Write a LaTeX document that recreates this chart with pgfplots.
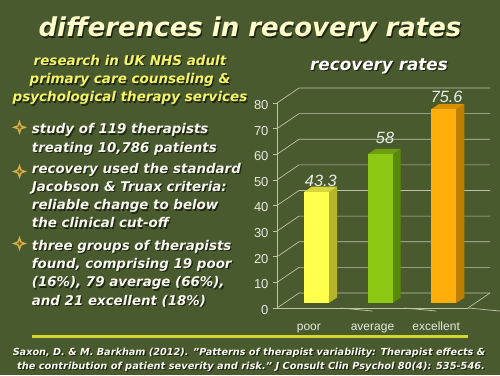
\documentclass[border=0pt]{standalone}
\usepackage{fontspec}
\setmainfont{DejaVu Sans}
\newfontfamily\chartfont{Liberation Sans}
\usepackage{pgfplots}
\pgfplotsset{compat=1.18}
\definecolor{bg}{HTML}{4A5A2F}
\definecolor{titlec}{HTML}{FFFFCC}
\definecolor{subc}{HTML}{F4F466}
\definecolor{bodyc}{HTML}{F8F8F0}
\definecolor{starc}{HTML}{D2B04A}
\definecolor{starin}{HTML}{6E6228}
\definecolor{rulec}{HTML}{D6D630}
\definecolor{gridc}{HTML}{BCC4A4}
\definecolor{tickc}{HTML}{E4EADC}
\definecolor{valc}{HTML}{E8EEE4}
\definecolor{shadow}{HTML}{1E2612}
\definecolor{poorF}{HTML}{FFFF4D}
\definecolor{poorS}{HTML}{B5B52C}
\definecolor{poorT}{HTML}{D6D63A}
\definecolor{avgF}{HTML}{8CC814}
\definecolor{avgS}{HTML}{5A8A0A}
\definecolor{avgT}{HTML}{6E9E10}
\definecolor{excF}{HTML}{FFAE0A}
\definecolor{excS}{HTML}{C07E00}
\definecolor{excT}{HTML}{D89000}
\newcommand{\stext}[5]{%
  \node[anchor=#1,inner sep=0pt,text=shadow,xshift=1.3pt,yshift=-1.3pt] at (#2,#3) {#5};
  \node[anchor=#1,inner sep=0pt,text=#4] at (#2,#3) {#5};}
\newcommand{\barbox}[4]{%
  \fill[#3] ([shift={(20pt,5pt)}]axis cs:#1,0) -- ([shift={(28.2pt,10.5pt)}]axis cs:#1,0) -- ([shift={(28.2pt,10.5pt)}]axis cs:#1,#2) -- ([shift={(20pt,5pt)}]axis cs:#1,#2) -- cycle;
  \fill[#4] ([shift={(-5pt,5pt)}]axis cs:#1,#2) -- ([shift={(20pt,5pt)}]axis cs:#1,#2) -- ([shift={(28.2pt,10.5pt)}]axis cs:#1,#2) -- ([shift={(3.2pt,10.5pt)}]axis cs:#1,#2) -- cycle;}
\newcommand{\TF}{\bfseries\itshape\fontsize{26}{26}\selectfont}
\newcommand{\SF}{\bfseries\itshape\fontsize{13.5}{13.5}\selectfont}
\newcommand{\BF}{\bfseries\itshape\fontsize{13.4}{13.4}\selectfont}
\newcommand{\CF}{\bfseries\itshape\fontsize{9.7}{9.7}\selectfont}
\begin{document}
\begin{tikzpicture}
\path[use as bounding box] (0,0) rectangle (500pt,375pt);
\fill[bg] (0,0) rectangle (500pt,375pt);
% title
\stext{base}{250pt}{338pt}{titlec}{\TF differences in recovery rates}
% subtitle
\stext{base}{130pt}{309.3pt}{subc}{\SF research in UK NHS adult}
\stext{base}{130pt}{291pt}{subc}{\SF primary care counseling \&}
\stext{base}{130pt}{273pt}{subc}{\SF psychological therapy services}
% chart title
\stext{base}{379pt}{304.3pt}{white}{\bfseries\itshape\fontsize{16.8}{16.8}\selectfont recovery rates}
% bullet stars
\foreach \yy in {247.7,203.5,131.5}{
  \begin{scope}[shift={(19.5pt,\yy pt)}]
  \fill[starc] (0,7.5pt) -- (2pt,2pt) -- (7.5pt,0) -- (2pt,-2pt) -- (0,-7.5pt) -- (-2pt,-2pt) -- (-7.5pt,0) -- (-2pt,2pt) -- cycle;
  \fill[starin] (0,2.6pt) -- (1.2pt,0) -- (0,-2.6pt) -- (-1.2pt,0) -- cycle;
  \fill[starin] (-2.6pt,0) -- (0,1.2pt) -- (2.6pt,0) -- (0,-1.2pt) -- cycle;
  \end{scope}
}
\stext{base west}{31.7pt}{241pt}{bodyc}{\BF study of 119 therapists}
\stext{base west}{31.7pt}{222.3pt}{bodyc}{\BF treating 10,786 patients}
\stext{base west}{31.7pt}{201.7pt}{bodyc}{\BF recovery used the standard}
\stext{base west}{31.7pt}{183.3pt}{bodyc}{\BF Jacobson \& Truax criteria:}
\stext{base west}{31.7pt}{165pt}{bodyc}{\BF reliable change to below}
\stext{base west}{31.7pt}{147pt}{bodyc}{\BF the clinical cut-off}
\stext{base west}{31.7pt}{125pt}{bodyc}{\BF three groups of therapists}
\stext{base west}{31.7pt}{107pt}{bodyc}{\BF found, comprising 19 poor}
\stext{base west}{31.7pt}{88.3pt}{bodyc}{\BF (16\%), 79 average (66\%),}
\stext{base west}{31.7pt}{70pt}{bodyc}{\BF and 21 excellent (18\%)}
% rule
\draw[rulec,line width=3pt] (32pt,38.3pt) -- (468pt,38.3pt);
% citation
\stext{base}{249pt}{20pt}{bodyc}{\CF Saxon, D. \& M. Barkham (2012). "Patterns of therapist variability: Therapist effects \&}
\stext{base}{251pt}{6pt}{bodyc}{\CF \scalebox{1.015}[1]{the contribution of patient severity and risk." J Consult Clin Psychol 80(4): 535-546.}}
% chart
\begin{axis}[
  at={(277pt,67pt)}, anchor=south west,
  scale only axis, width=191pt, height=205pt,
  xmin=-0.5, xmax=2.5, ymin=0, ymax=80,
  clip=false,
  axis x line*=bottom, axis y line*=left,
  axis line style={draw=gridc, line width=0.7pt, -},
  xtick={0,1,2}, xticklabels={poor,average,excellent},
  xtick style={draw=none},
  ytick={0,10,...,80},
  ytick style={draw=gridc, line width=0.7pt},
  tick align=outside, major tick length=4pt,
  /pgf/number format/assume math mode=true,
  yticklabel style={font=\chartfont\fontsize{13}{13}\selectfont, text=tickc, yshift=-2pt, xshift=-1pt},
  xticklabel style={font=\chartfont\fontsize{12}{12}\selectfont, text=tickc, anchor=base, yshift=-18pt},
]
\pgfplotsinvokeforeach{0,10,20,30,40,50,60,70,80}{
  \draw[gridc,line width=0.7pt] (axis cs:-0.5,#1) -- ++(22pt,15pt) -- ++(191pt,0pt);
}
\draw[gridc,line width=0.7pt] (axis cs:2.5,0) -- ++(22pt,15pt);
\draw[gridc,line width=0.7pt] (axis cs:0.5,0) -- ++(0,-3pt);
\draw[gridc,line width=0.7pt] (axis cs:1.5,0) -- ++(0,-3pt);
\draw[gridc,line width=0.7pt] (axis cs:2.5,0) -- ++(0,-3pt);
% bars
\barbox{0}{43.3}{poorS}{poorT}
\barbox{1}{58}{avgS}{avgT}
\barbox{2}{75.6}{excS}{excT}
\addplot[ybar, bar width=25pt, bar shift=7.5pt, yshift=5pt, fill=poorF, draw=none] coordinates {(0,43.3)};
\addplot[ybar, bar width=25pt, bar shift=7.5pt, yshift=5pt, fill=avgF, draw=none] coordinates {(1,58)};
\addplot[ybar, bar width=25pt, bar shift=7.5pt, yshift=5pt, fill=excF, draw=none] coordinates {(2,75.6)};
\node[anchor=base,inner sep=0pt,text=valc,font=\chartfont\itshape\fontsize{16.3}{16.3}\selectfont] at ([shift={(12pt,10.3pt)}]axis cs:0,43.3) {43.3};
\node[anchor=base,inner sep=0pt,text=valc,font=\chartfont\itshape\fontsize{16.3}{16.3}\selectfont] at ([shift={(12.5pt,16.1pt)}]axis cs:1,58) {58};
\node[anchor=base,inner sep=0pt,text=valc,font=\chartfont\itshape\fontsize{16.3}{16.3}\selectfont] at ([shift={(10.5pt,11.6pt)}]axis cs:2,75.6) {75.6};
\end{axis}
\end{tikzpicture}
\end{document}
